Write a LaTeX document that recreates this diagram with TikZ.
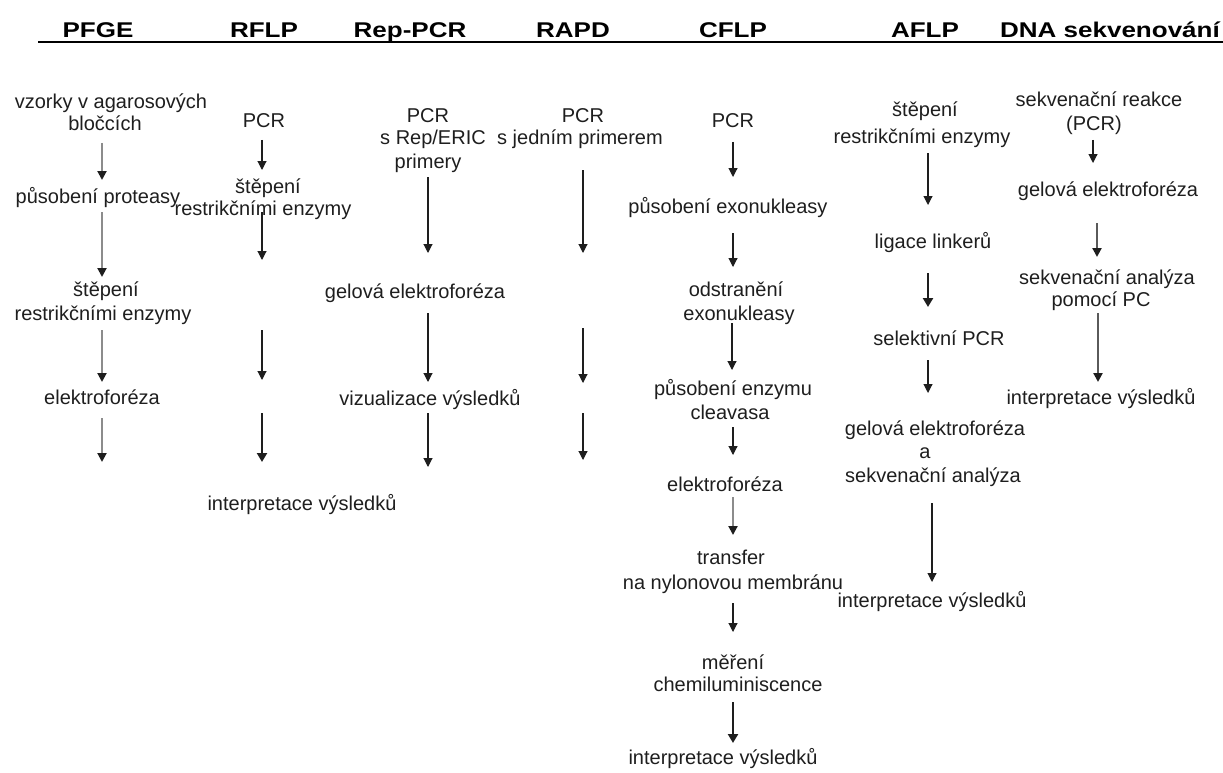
\documentclass[tikz,border=0pt]{standalone}
\usepackage{fontspec}
\usepackage{graphicx}
\setmainfont{Liberation Sans}
\usetikzlibrary{arrows.meta}

\definecolor{ink}{HTML}{1E1E1E}
\definecolor{lightline}{HTML}{8C8C8C}
\definecolor{midline}{HTML}{5A5A5A}

% headings are set wide and slightly flattened
\newcommand{\headtext}[1]{\scalebox{1}[0.82]{#1}}

\tikzset{
  head/.style={font=\fontsize{26}{30}\selectfont\bfseries, text=black, anchor=base, inner sep=0pt},
  lbl/.style={font=\fontsize{20}{23}\selectfont, text=ink, anchor=base, inner sep=0pt},
  arr/.style={draw=ink, line width=1.1pt, -{Triangle[width=9pt,length=9pt,color=ink]}},
  arrgray/.style={draw=lightline, line width=2pt, -{Triangle[width=9pt,length=9pt,color=ink]}},
  arrmid/.style={draw=midline, line width=2.2pt, -{Triangle[width=9pt,length=9pt,color=ink]}},
  arrbold/.style={draw=ink, line width=2.4pt, -{Triangle[width=10pt,length=9pt,color=ink]}}
}

\begin{document}
\begin{tikzpicture}[x=1pt,y=-1pt]
\useasboundingbox (0,0) rectangle (1223,773);

% ---- column headings and rule ----
\node[head] (hPFGE) at (98,38)  {\headtext{PFGE}};
\node[head] (hRFLP) at (264,38) {\headtext{RFLP}};
\node[head] (hREP)  at (410,38) {\headtext{Rep-PCR}};
\node[head] (hRAPD) at (573,38) {\headtext{RAPD}};
\node[head] (hCFLP) at (733,38) {\headtext{CFLP}};
\node[head] (hAFLP) at (925,38) {\headtext{AFLP}};
\node[head] (hDNA)  at (1110,38) {\headtext{DNA sekvenování}};
\coordinate (ruleL) at (38,42);
\coordinate (ruleR) at (1223,42);
\draw[line width=2.6pt, black] (ruleL) -- (ruleR);

% ---- PFGE ----
\node[lbl] (pf1a) at (111,109) {vzorky v agarosových};
\node[lbl] (pf1b) at (105,131) {bločcích};
\node[lbl] (pf2)  at (98,203)  {působení proteasy};
\node[lbl] (pf3a) at (106,296) {štěpení};
\node[lbl] (pf3b) at (103,320) {restrikčními enzymy};
\node[lbl] (pf4)  at (102,404) {elektroforéza};
\coordinate (pfA1) at (102,143); \coordinate (pfB1) at (102,180);
\coordinate (pfA2) at (102,212); \coordinate (pfB2) at (102,277);
\coordinate (pfA3) at (102,330); \coordinate (pfB3) at (102,382);
\coordinate (pfA4) at (102,418); \coordinate (pfB4) at (102,462);
\draw[arrgray] (pfA1) -- (pfB1);
\draw[arrgray] (pfA2) -- (pfB2);
\draw[arrgray] (pfA3) -- (pfB3);
\draw[arrgray] (pfA4) -- (pfB4);

% ---- RFLP ----
\node[lbl] (rf1)  at (264,128) {PCR};
\node[lbl] (rf2a) at (268,193) {štěpení};
\node[lbl] (rf2b) at (263,215) {restrikčními enzymy};
\node[lbl] (rf3)  at (302,510) {interpretace výsledků};
\coordinate (rfA1) at (262,140); \coordinate (rfB1) at (262,170);
\coordinate (rfA2) at (262,212); \coordinate (rfB2) at (262,260);
\coordinate (rfA3) at (262,330); \coordinate (rfB3) at (262,380);
\coordinate (rfA4) at (262,413); \coordinate (rfB4) at (262,462);
\draw[arr] (rfA1) -- (rfB1);
\draw[arr] (rfA2) -- (rfB2);
\draw[arr] (rfA3) -- (rfB3);
\draw[arrbold] (rfA4) -- (rfB4);

% ---- Rep-PCR ----
\node[lbl] (rp1a) at (428,123) {PCR};
\node[lbl] (rp1b) at (433,145) {s Rep/ERIC};
\node[lbl] (rp1c) at (428,168) {primery};
\node[lbl] (rp2)  at (415,298) {gelová elektroforéza};
\node[lbl] (rp3)  at (430,405) {vizualizace výsledků};
\coordinate (rpA1) at (428,177); \coordinate (rpB1) at (428,253);
\coordinate (rpA2) at (428,313); \coordinate (rpB2) at (428,382);
\coordinate (rpA3) at (428,413); \coordinate (rpB3) at (428,467);
\draw[arr] (rpA1) -- (rpB1);
\draw[arr] (rpA2) -- (rpB2);
\draw[arr] (rpA3) -- (rpB3);

% ---- RAPD ----
\node[lbl] (ra1a) at (583,123) {PCR};
\node[lbl] (ra1b) at (580,145) {s jedním primerem};
\coordinate (raA1) at (583,170); \coordinate (raB1) at (583,253);
\coordinate (raA2) at (583,328); \coordinate (raB2) at (583,383);
\coordinate (raA3) at (583,413); \coordinate (raB3) at (583,460);
\draw[arr] (raA1) -- (raB1);
\draw[arr] (raA2) -- (raB2);
\draw[arr] (raA3) -- (raB3);

% ---- CFLP ----
\node[lbl] (cf1)  at (733,128) {PCR};
\node[lbl] (cf2)  at (728,213) {působení exonukleasy};
\node[lbl] (cf3a) at (736,296) {odstranění};
\node[lbl] (cf3b) at (739,320) {exonukleasy};
\node[lbl] (cf4a) at (733,395) {působení enzymu};
\node[lbl] (cf4b) at (730,419) {cleavasa};
\node[lbl] (cf5)  at (725,491) {elektroforéza};
\node[lbl] (cf6a) at (731,564) {transfer};
\node[lbl] (cf6b) at (733,589) {na nylonovou membránu};
\node[lbl] (cf7a) at (733,669) {měření};
\node[lbl] (cf7b) at (738,691) {chemiluminiscence};
\node[lbl] (cf8)  at (723,764) {interpretace výsledků};
\coordinate (cfA1) at (733,142); \coordinate (cfB1) at (733,177);
\coordinate (cfA2) at (733,233); \coordinate (cfB2) at (733,267);
\coordinate (cfA3) at (732,323); \coordinate (cfB3) at (732,370);
\coordinate (cfA4) at (733,427); \coordinate (cfB4) at (733,455);
\coordinate (cfA5) at (733,497); \coordinate (cfB5) at (733,535);
\coordinate (cfA6) at (733,603); \coordinate (cfB6) at (733,632);
\coordinate (cfA7) at (733,702); \coordinate (cfB7) at (733,743);
\draw[arr] (cfA1) -- (cfB1);
\draw[arr] (cfA2) -- (cfB2);
\draw[arr] (cfA3) -- (cfB3);
\draw[arr] (cfA4) -- (cfB4);
\draw[arrgray] (cfA5) -- (cfB5);
\draw[arr] (cfA6) -- (cfB6);
\draw[arrbold] (cfA7) -- (cfB7);

% ---- AFLP ----
\node[lbl] (af1a) at (925,117) {štěpení};
\node[lbl] (af1b) at (922,143) {restrikčními enzymy};
\node[lbl] (af2)  at (933,248) {ligace linkerů};
\node[lbl] (af3)  at (939,345) {selektivní PCR};
\node[lbl] (af4a) at (935,435) {gelová elektroforéza};
\node[lbl] (af4b) at (925,458) {a};
\node[lbl] (af4c) at (933,482) {sekvenační analýza};
\node[lbl] (af5)  at (932,607) {interpretace výsledků};
\coordinate (afA1) at (928,153); \coordinate (afB1) at (928,205);
\coordinate (afA2) at (928,273); \coordinate (afB2) at (928,307);
\coordinate (afA3) at (928,360); \coordinate (afB3) at (928,393);
\coordinate (afA4) at (932,503); \coordinate (afB4) at (932,582);
\draw[arr] (afA1) -- (afB1);
\draw[arrbold] (afA2) -- (afB2);
\draw[arr] (afA3) -- (afB3);
\draw[arr] (afA4) -- (afB4);

% ---- DNA sekvenování ----
\node[lbl] (dn1a) at (1099,107) {sekvenační reakce};
\node[lbl] (dn1b) at (1094,131) {(PCR)};
\node[lbl] (dn2)  at (1108,196) {gelová elektroforéza};
\node[lbl] (dn3a) at (1107,284) {sekvenační analýza};
\node[lbl] (dn3b) at (1101,306) {pomocí PC};
\node[lbl] (dn4)  at (1101,404) {interpretace výsledků};
\coordinate (dnA1) at (1093,140); \coordinate (dnB1) at (1093,163);
\coordinate (dnA2) at (1097,223); \coordinate (dnB2) at (1097,257);
\coordinate (dnA3) at (1098,313); \coordinate (dnB3) at (1098,382);
\draw[arr] (dnA1) -- (dnB1);
\draw[arrmid] (dnA2) -- (dnB2);
\draw[arrmid] (dnA3) -- (dnB3);
\end{tikzpicture}
\end{document}
